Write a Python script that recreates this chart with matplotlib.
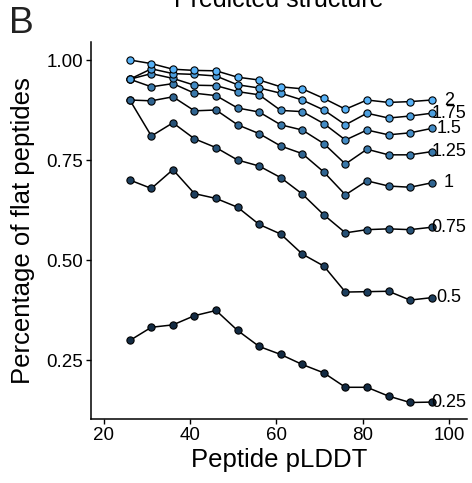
import matplotlib.pyplot as plt
import numpy as np

plt.rcParams['font.family'] = ['Liberation Sans', 'DejaVu Sans']

# pLDDT bins (x) and fraction of flat peptides for each threshold
plddt = [26, 31, 36, 41, 46, 51, 56, 61, 66, 71, 76, 81, 86, 91, 96]
thresholds = [0.25, 0.5, 0.75, 1, 1.25, 1.5, 1.75, 2]
threshold_labels = ['0.25', '0.5', '0.75', '1', '1.25', '1.5', '1.75', '2']

flat_025 = [0.299, 0.332, 0.338, 0.361, 0.374, 0.324, 0.284, 0.264, 0.239, 0.218, 0.182, 0.182, 0.160, 0.144, 0.145]
flat_05 = [0.700, 0.679, 0.726, 0.666, 0.654, 0.632, 0.589, 0.565, 0.515, 0.485, 0.420, 0.421, 0.422, 0.400, 0.406]
flat_075 = [0.900, 0.810, 0.843, 0.803, 0.781, 0.750, 0.735, 0.706, 0.665, 0.613, 0.568, 0.576, 0.578, 0.576, 0.582]
flat_1 = [0.900, 0.898, 0.908, 0.873, 0.875, 0.838, 0.816, 0.785, 0.766, 0.720, 0.663, 0.698, 0.685, 0.682, 0.693]
flat_125 = [0.952, 0.933, 0.941, 0.917, 0.911, 0.880, 0.870, 0.838, 0.825, 0.791, 0.740, 0.777, 0.763, 0.763, 0.771]
flat_15 = [0.952, 0.966, 0.954, 0.937, 0.936, 0.921, 0.913, 0.874, 0.871, 0.841, 0.800, 0.825, 0.813, 0.818, 0.829]
flat_175 = [0.952, 0.978, 0.966, 0.964, 0.960, 0.938, 0.930, 0.917, 0.900, 0.875, 0.838, 0.867, 0.855, 0.860, 0.867]
flat_2 = [1.000, 0.991, 0.977, 0.974, 0.973, 0.957, 0.950, 0.933, 0.928, 0.904, 0.877, 0.900, 0.894, 0.896, 0.900]

series = [flat_025, flat_05, flat_075, flat_1, flat_125, flat_15, flat_175, flat_2]

# colour gradient low -> high threshold
low = np.array([0x13, 0x2B, 0x43]) / 255
high = np.array([0x56, 0xB1, 0xF7]) / 255
def grad(v):
    t = (v - min(thresholds)) / (max(thresholds) - min(thresholds))
    return tuple(low + (high - low) * t)

fig = plt.figure(figsize=(4.72, 4.83), dpi=100)
ax = fig.add_axes([91/472, 1 - 419.3/483, (467-91)/472, (419.3-42)/483])

for vals in series:
    ax.plot(plddt, vals, color='black', lw=1.1, zorder=2)
for th, vals in zip(thresholds, series):
    ax.plot(plddt, vals, ls='none', marker='o', ms=5.2, mfc=grad(th),
            mec='black', mew=0.8, zorder=3)

for lab, vals in zip(threshold_labels, series):
    ax.text(100, vals[-1], lab, ha='center', va='center', fontsize=13, zorder=4)

ax.set_xlim(17, 104.2)
ax.set_ylim(0.102, 1.045)
ax.set_xticks([20, 40, 60, 80, 100])
ax.set_yticks([0.25, 0.5, 0.75, 1.0])
ax.set_yticklabels(['0.25', '0.50', '0.75', '1.00'])

for s in ['top', 'right']:
    ax.spines[s].set_visible(False)
for s in ['left', 'bottom']:
    ax.spines[s].set_linewidth(1.1)
ax.tick_params(length=3.6, width=1.0, labelsize=13.5, colors='black', pad=2)

ax.set_xlabel('Peptide pLDDT', fontsize=18.5)
ax.set_ylabel('Percentage of flat peptides', fontsize=18.5)
ax.yaxis.set_label_coords(-0.15, 0.5)
ax.xaxis.set_label_coords(0.5, -0.075)

fig.text(279/472, 1 - 7/483, 'Predicted structure', ha='center', va='baseline', fontsize=18)
fig.text(9/472, 1 - 33.3/483, 'B', ha='left', va='baseline', fontsize=26.8, color='#222222')

fig.savefig('out.png', dpi=100)
